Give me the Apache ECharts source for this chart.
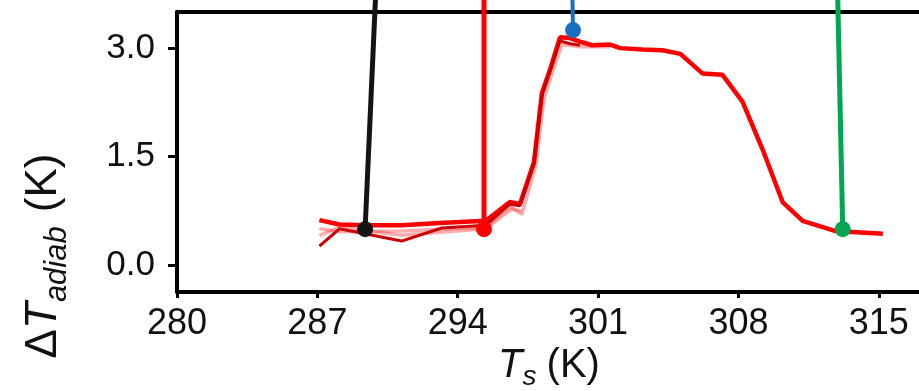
<!DOCTYPE html>
<html>
<head>
<meta charset="utf-8">
<script src="https://cdn.jsdelivr.net/npm/echarts@6/dist/echarts.min.js"></script>
<style>
  html, body { margin: 0; padding: 0; background: #fff; }
  #chart { width: 919px; height: 391px; }
</style>
</head>
<body>
<div id="chart"></div>
<script>
// ticks
var xTicks = [280, 287, 294, 301, 308, 315];
var yTicks = [0.0, 1.5, 3.0];

// main heating curve (bright red)
var mainT = [287.1, 288.1, 289.4, 291.2, 293.1, 295.4, 296.6, 297.1, 297.8, 298.2, 298.6, 299.1, 299.6, 300.1, 300.7, 301.6, 302.1, 303.2, 304.2, 305.1, 306.2, 307.2, 308.2, 309.2, 310.2, 311.2, 312.8, 315.2];
var mainDT = [0.62, 0.56, 0.55, 0.55, 0.58, 0.61, 0.87, 0.84, 1.42, 2.38, 2.70, 3.15, 3.14, 3.09, 3.04, 3.05, 3.00, 2.98, 2.97, 2.92, 2.65, 2.63, 2.26, 1.60, 0.87, 0.61, 0.47, 0.43];

// darker repeat run
var darkT = [287.1, 288.1, 291.2, 293.2, 295.4, 296.6, 297.1, 297.8, 298.2, 298.6, 299.1, 299.6, 300.1];
var darkDT = [0.26, 0.50, 0.33, 0.51, 0.55, 0.84, 0.82, 1.40, 2.35, 2.68, 3.10, 3.06, 3.04];

// paler repeat runs
var pale1T = [287.1, 288.1, 291.2, 295.4, 296.6, 297.2, 297.9, 298.3, 298.7, 299.2, 300.1, 301.6];
var pale1DT = [0.50, 0.46, 0.47, 0.52, 0.80, 0.70, 1.38, 2.30, 2.65, 3.05, 3.02, 3.02];
var pale2T = [287.1, 288.1, 291.2, 295.4, 296.7, 297.2];
var pale2DT = [0.41, 0.52, 0.41, 0.50, 0.78, 0.74];

// marker points and where their sticks end
var markers = [
  { name: 'black', color: '#141414', p: [289.38, 0.495], end: [289.9, 3.7], w: 5 },
  { name: 'red',   color: '#ff0000', p: [295.31, 0.495], end: [295.31, 3.7], w: 5 },
  { name: 'blue',  color: '#1a6fbf', p: [299.75, 3.25],  end: [299.72, 3.7], w: 4 },
  { name: 'green', color: '#00a651', p: [313.2, 0.495],  end: [312.95, 3.7], w: 5 }
];

function zip(a, b) {
  return a.map(function (v, i) { return [v, b[i]]; });
}

var chart = echarts.init(document.getElementById('chart'));

var series = [
  { type: 'line', data: zip(pale1T, pale1DT), symbol: 'none',
    lineStyle: { color: 'rgba(255,70,70,0.45)', width: 3.5 } },
  { type: 'line', data: zip(pale2T, pale2DT), symbol: 'none',
    lineStyle: { color: 'rgba(255,70,70,0.45)', width: 3.5 } },
  { type: 'line', data: zip(mainT, mainDT), symbol: 'none',
    lineStyle: { color: '#ff0000', width: 4.5 } },
  { type: 'line', data: zip(darkT, darkDT), symbol: 'none',
    lineStyle: { color: '#cc0000', width: 3 } }
];

markers.forEach(function (m) {
  series.push({
    type: 'line',
    clip: false,
    z: 5,
    data: [
      { value: m.p, symbol: 'circle', symbolSize: 16 },
      { value: m.end, symbol: 'none' }
    ],
    itemStyle: { color: m.color },
    lineStyle: { color: m.color, width: m.w }
  });
});

chart.setOption({
  animation: false,
  // the plot box runs past the right edge of the picture
  grid: { left: 177, top: 12, width: 762, height: 280, outerBoundsMode: 'none', containLabel: false },
  xAxis: [
    {
      type: 'value', min: 280, max: 318, interval: 7, position: 'bottom',
      axisLine: { show: true, onZero: false, lineStyle: { color: '#000', width: 4 } },
      axisTick: { show: true, length: 6, lineStyle: { color: '#000', width: 3 } },
      splitLine: { show: false },
      axisLabel: {
        margin: 14, fontSize: 36, color: '#111', fontFamily: 'Liberation Sans',
        showMaxLabel: false
      }
    },
    {
      type: 'value', min: 280, max: 318, position: 'top',
      axisLine: { show: true, onZero: false, lineStyle: { color: '#000', width: 4 } },
      axisTick: { show: false }, axisLabel: { show: false }, splitLine: { show: false }
    }
  ],
  yAxis: {
    type: 'value', min: -0.375, max: 3.5,
    axisLine: { show: true, onZero: false, lineStyle: { color: '#000', width: 4 } },
    axisTick: { show: true, length: 9, lineStyle: { color: '#000', width: 3 }, customValues: yTicks },
    splitLine: { show: false },
    axisLabel: {
      margin: 22, fontSize: 35, color: '#111', fontFamily: 'Liberation Sans',
      customValues: yTicks,
      formatter: function (v) { return v.toFixed(1); }
    }
  },
  graphic: [
    {
      type: 'text', x: 44, y: 256, rotation: Math.PI / 2,
      style: {
        text: '{d|Δ}{t|T}{s|adiab}{g| }{d|(K)}',
        align: 'center', verticalAlign: 'middle',
        rich: {
          d: { fontSize: 44, fontFamily: 'Liberation Sans', fill: '#111' },
          t: { fontSize: 44, fontFamily: 'Liberation Sans', fontStyle: 'italic', fill: '#111' },
          g: { fontSize: 44, width: 14 },
          s: { fontSize: 31, fontFamily: 'Liberation Sans', fontStyle: 'italic', fill: '#111', padding: [26, 0, 0, 0] }
        }
      }
    },
    {
      type: 'text', x: 549, y: 366,
      style: {
        text: '{t|T}{s|s}{g| }{d|(K)}',
        align: 'center', verticalAlign: 'middle',
        rich: {
          d: { fontSize: 40, fontFamily: 'Liberation Sans', fill: '#111' },
          t: { fontSize: 40, fontFamily: 'Liberation Sans', fontStyle: 'italic', fill: '#111' },
          g: { fontSize: 40, width: 10 },
          s: { fontSize: 28, fontFamily: 'Liberation Sans', fontStyle: 'italic', fill: '#111', padding: [22, 0, 0, 0] }
        }
      }
    }
  ],
  series: series
});
</script>
</body>
</html>
